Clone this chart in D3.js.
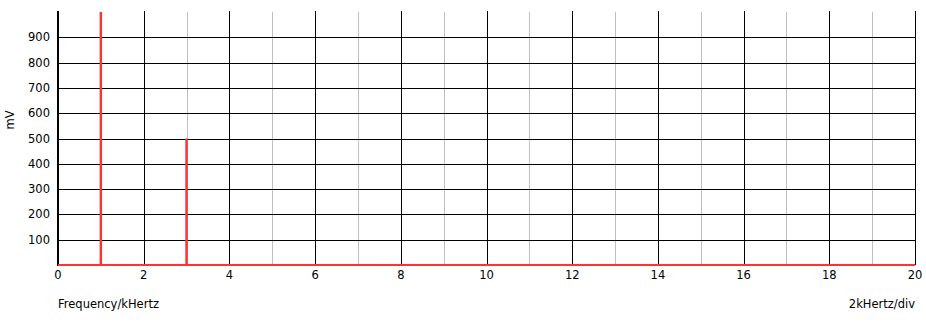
<!DOCTYPE html>
<html>
<head>
<meta charset="utf-8">
<script src="https://cdn.jsdelivr.net/npm/d3@7"></script>
<style>
  body { margin: 0; background: #fff; }
  text { font-family: "DejaVu Sans", Verdana, sans-serif; font-size: 11.5px; fill: #000; }
</style>
</head>
<body>
<svg id="chart" width="926" height="322"></svg>
<script>
// spectrum lines: frequency (kHz) and amplitude (mV)
var freqs = [1, 3];
var amps = [1000, 500];
var xTicks = [0, 2, 4, 6, 8, 10, 12, 14, 16, 18, 20];
var yTicks = [100, 200, 300, 400, 500, 600, 700, 800, 900];

var padLeft = 58, padRight = 915, padTop = 12, padBottom = 265;

var svg = d3.select("#chart");

var xScale = d3.scaleLinear().domain([0, 20]).range([padLeft, padRight]);
var yScale = d3.scaleLinear().domain([0, 1000]).range([padBottom, padTop]);

// odd divisions in grey
svg.append("g").selectAll("line")
  .data(d3.range(1, 20, 2))
  .enter().append("line")
    .attr("x1", function(d) { return Math.round(xScale(d)) + 0.5; })
    .attr("x2", function(d) { return Math.round(xScale(d)) + 0.5; })
    .attr("y1", padTop).attr("y2", padBottom)
    .attr("stroke", "#c0c0c0");

// horizontal grid
svg.append("g").selectAll("line")
  .data(yTicks)
  .enter().append("line")
    .attr("x1", padLeft).attr("x2", padRight)
    .attr("y1", function(d) { return Math.round(yScale(d)) + 0.5; })
    .attr("y2", function(d) { return Math.round(yScale(d)) + 0.5; })
    .attr("stroke", "#000");

// even divisions black
svg.append("g").selectAll("line")
  .data(xTicks.slice(1))
  .enter().append("line")
    .attr("x1", function(d) { return Math.round(xScale(d)) + 0.5; })
    .attr("x2", function(d) { return Math.round(xScale(d)) + 0.5; })
    .attr("y1", padTop - 1).attr("y2", padBottom)
    .attr("stroke", "#000");

// left axis
svg.append("line")
  .attr("x1", padLeft).attr("x2", padLeft)
  .attr("y1", padTop - 1).attr("y2", padBottom + 1)
  .attr("stroke", "#000").attr("stroke-width", 2);

// y tick labels
svg.append("g").selectAll("text")
  .data(yTicks)
  .enter().append("text")
    .attr("x", padLeft - 8)
    .attr("y", function(d) { return yScale(d) + 4; })
    .attr("text-anchor", "end")
    .text(function(d) { return d; });

// x tick labels
svg.append("g").selectAll("text")
  .data(xTicks)
  .enter().append("text")
    .attr("x", function(d) { return xScale(d); })
    .attr("y", padBottom + 14)
    .attr("text-anchor", "middle")
    .text(function(d) { return d; });

// baseline trace
svg.append("line")
  .attr("x1", padLeft).attr("x2", padRight)
  .attr("y1", padBottom).attr("y2", padBottom)
  .attr("stroke", "#ff3333").attr("stroke-width", 2);

// spectrum bars
svg.append("g").selectAll("line")
  .data(freqs)
  .enter().append("line")
    .attr("x1", function(d) { return xScale(d); })
    .attr("x2", function(d) { return xScale(d); })
    .attr("y1", padBottom)
    .attr("y2", function(d, i) { return yScale(amps[i]); })
    .attr("stroke", "#ff3333").attr("stroke-width", 2.5);

svg.append("text")
  .attr("transform", "translate(14,120) rotate(-90)")
  .attr("text-anchor", "middle")
  .text("mV");

svg.append("text")
  .attr("x", padLeft).attr("y", 308)
  .text("Frequency/kHertz");

svg.append("text")
  .attr("x", padRight).attr("y", 308)
  .attr("text-anchor", "end")
  .text("2kHertz/div");
</script>
</body>
</html>
